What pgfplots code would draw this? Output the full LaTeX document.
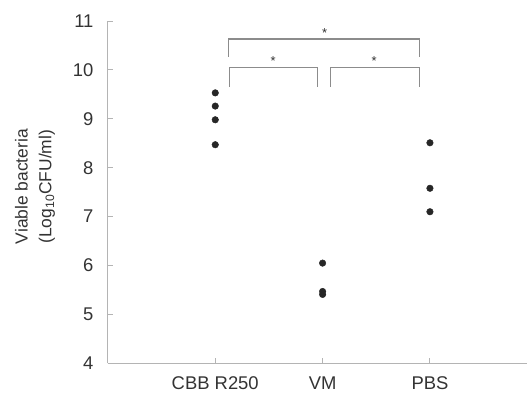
\documentclass[border=0pt]{standalone}
\usepackage{pgfplots}
\pgfplotsset{compat=1.18}
\usepackage{fontspec}
\setmainfont{Liberation Sans}
\definecolor{txt}{HTML}{333333}
\definecolor{axl}{HTML}{B4B4B4}
\definecolor{brk}{HTML}{8C8C8C}
\begin{document}
\begin{tikzpicture}
\begin{axis}[
  scale only axis,
  width=419bp, height=342.7bp,
  xmin=0, xmax=3.9, ymin=4, ymax=11,
  axis lines=left,
  axis line style={-, draw=axl, line width=0.9bp},
  tick style={draw=axl, line width=0.9bp},
  tick align=inside,
  major tick length=5bp,
  xtick={1,2,3},
  xticklabels={CBB R250, VM, PBS},
  ytick={4,5,...,11},
  /pgf/number format/assume math mode=true,
  tick label style={font=\fontsize{18.5}{21}\selectfont, text=txt},
  yticklabel style={xshift=-11bp},
  xticklabel style={yshift=-10bp},
  ylabel={Viable bacteria\\[3pt](Log\textsubscript{10}CFU/ml)},
  ylabel style={font=\fontsize{17.5}{21}\selectfont, text=txt, align=center,
    at={(rel axis cs:-0.1742,0.516)}, anchor=center},
  clip=false,
]
\addplot[only marks, mark=*, mark size=3.3bp, color=black!85] coordinates {
  (1,9.53) (1,9.26) (1,8.98) (1,8.47)
  (2,6.05) (2,5.47) (2,5.41)
  (3,8.51) (3,7.58) (3,7.10)
};
% significance brackets
\draw[brk, line width=1.2bp] (axis cs:1.12,10.27) -- (axis cs:1.12,10.63) -- (axis cs:2.90,10.63) -- (axis cs:2.90,10.27);
\draw[brk, line width=1.2bp] (axis cs:1.13,9.66) -- (axis cs:1.13,10.05) -- (axis cs:1.95,10.05) -- (axis cs:1.95,9.66);
\draw[brk, line width=1.2bp] (axis cs:2.07,9.66) -- (axis cs:2.07,10.05) -- (axis cs:2.90,10.05) -- (axis cs:2.90,9.66);
\node[font=\fontsize{13}{15}\selectfont, text=txt, anchor=south, inner sep=0pt, yshift=1.5bp] at (axis cs:2.02,10.63) {*};
\node[font=\fontsize{13}{15}\selectfont, text=txt, anchor=south, inner sep=0pt, yshift=1.5bp] at (axis cs:1.54,10.05) {*};
\node[font=\fontsize{13}{15}\selectfont, text=txt, anchor=south, inner sep=0pt, yshift=1.5bp] at (axis cs:2.48,10.05) {*};
\end{axis}
\path ([shift={(-108bp,-30.3bp)}]current axis.south west) rectangle ([shift={(0bp,21bp)}]current axis.north east);
\end{tikzpicture}
\end{document}
